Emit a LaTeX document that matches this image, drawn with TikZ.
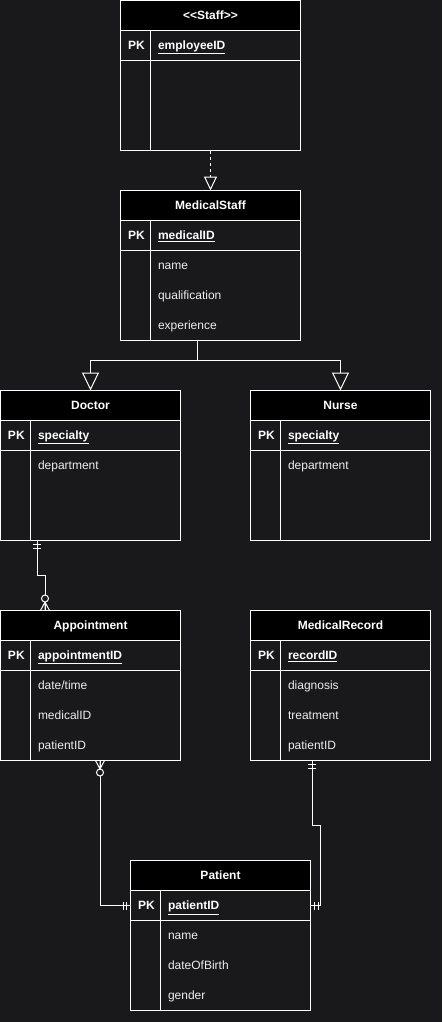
\documentclass[tikz,border=0pt]{standalone}
\usepackage{fontspec}
\setmainfont{Liberation Sans}
\usepackage{tikz}
\usetikzlibrary{positioning,calc,arrows.meta}
\definecolor{bgdark}{HTML}{19181B}
\definecolor{fieldgray}{HTML}{EEEEEE}
\tikzstyle{erline}=[draw=white, line width=1pt]
\tikzstyle{erhead}=[draw=white, fill=black, text=white, line width=1pt, minimum width=180pt, minimum height=30pt, inner sep=0pt, outer sep=0pt, text height=8.6pt, text depth=0pt, font=\fontsize{12}{14}\selectfont\bfseries]
\tikzstyle{erbody}=[draw=white, fill=bgdark, line width=1pt, minimum width=180pt, minimum height=120pt, inner sep=0pt, outer sep=0pt]
\tikzstyle{pk}=[anchor=base west, text=white, inner sep=0pt, font=\fontsize{12}{14}\selectfont\bfseries]
\tikzstyle{field}=[anchor=base west, text=fieldgray, inner sep=0pt, font=\fontsize{12}{14}\selectfont]
\tikzstyle{isa}=[erline, -{Triangle[open,length=18pt,width=17pt]}]
\tikzstyle{implements}=[erline, dash pattern=on 3pt off 3pt, -{Triangle[open,length=14pt,width=13pt]}]
\tikzset{
  mandone/.pic={\draw[erline] (4,-4) -- (4,4) (7.5,-4) -- (7.5,4);},
  zeromany/.pic={\draw[erline] (0,-4.5) -- (8.5,0) (0,0) -- (8.5,0) (0,4.5) -- (8.5,0);
    \draw[erline, fill=bgdark] (12,0) circle (3.5);}
}
\newcommand{\ertable}[6]{%
\node[erhead, anchor=north west] (#1) at (#2,#3) {#4};
\node[erbody, anchor=north west] (#1-body) at (#1.south west) {};
\draw[erline] ($(#1-body.north west)+(0,30)$) -- +(180,0);
\draw[erline] ($(#1-body.north west)+(30,0)$) -- +(0,120);
\node[pk] at ($(#1-body.north west)+(7,19.3)$) {PK};
\node[pk] at ($(#1-body.north west)+(37,19.3)$) {\underline{#5}};
\foreach \f [count=\i] in {#6} {\node[field] at ($(#1-body.north west)+(37,19.3+30*\i)$) {\f};}
}

\begin{document}
\begin{tikzpicture}[x=1pt, y=-1pt, color=white, line width=1pt]
\useasboundingbox (0,0) rectangle (442,1022);
\fill[bgdark] (0,0) rectangle (442,1022);
\ertable{staff}{120.5}{0.5}{<{}<Staff>{}>}{employeeID}{}
\ertable{mstaff}{120.5}{190.5}{MedicalStaff}{medicalID}{name,qualification,experience}
\ertable{doctor}{0.5}{390.5}{Doctor}{specialty}{department}
\ertable{nurse}{250.5}{390.5}{Nurse}{specialty}{department}
\ertable{appt}{0.5}{610.5}{Appointment}{appointmentID}{date/time,medicalID,patientID}
\ertable{mrec}{250.5}{610.5}{MedicalRecord}{recordID}{diagnosis,treatment,patientID}
\ertable{patient}{130.5}{860.5}{Patient}{patientID}{name,dateOfBirth,gender}
\coordinate (g) at ($(mstaff-body.south)+(-13,0)$);
\coordinate (d1) at ($(doctor-body.south west)+(36.5,0)$);
\coordinate (a1) at ($(appt.north west)+(44.5,0)$);
\coordinate (a2) at ($(appt-body.south west)+(99.5,0)$);
\coordinate (p1) at ($(patient-body.north west)+(0,15)$);
\coordinate (r1) at ($(mrec-body.south west)+(61.5,0)$);
\coordinate (p2) at ($(patient-body.north east)+(0,15)$);
\draw[implements] (staff-body.south) -- (mstaff.north);
\draw[isa] (g) -- ++(0,20) -| (doctor.north);
\draw[isa] (g) -- ++(0,20) -| (nurse.north);
\draw[erline] (d1) -- ++(0,35) -| (a1);
\draw[erline] (a2) |- (p1);
\draw[erline] (r1) -- ++(0,65) -| ++(8,80) -- (p2);
\pic[rotate=-90] at (d1) {mandone};
\pic[rotate=90] at (a1) {zeromany};
\pic[rotate=-90] at (a2) {zeromany};
\pic[rotate=180] at (p1) {mandone};
\pic[rotate=-90] at (r1) {mandone};
\pic at (p2) {mandone};
\end{tikzpicture}
\end{document}
